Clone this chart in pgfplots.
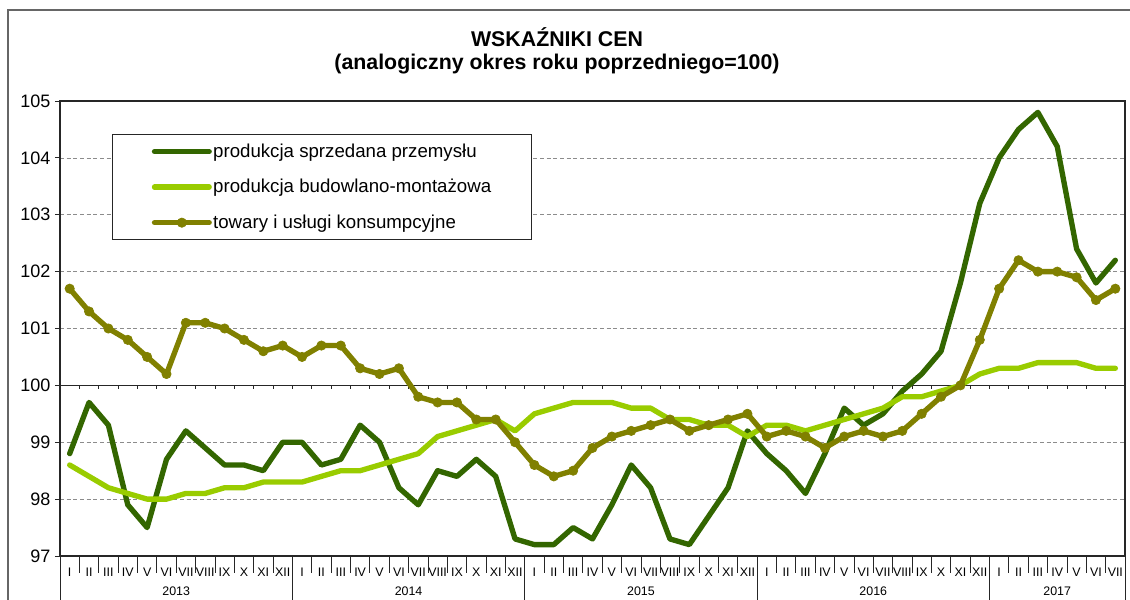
\documentclass[border=0pt]{standalone}
\usepackage{fontspec}
\setmainfont{Liberation Sans}
\usepackage{pgfplots}
\pgfplotsset{compat=1.18}
\usepackage{pgfplotstable}
\definecolor{cdark}{RGB}{51,102,0}
\definecolor{clight}{RGB}{153,204,0}
\definecolor{colive}{RGB}{128,128,0}

\pgfplotstableread{
x y
1 98.8
2 99.7
3 99.3
4 97.9
5 97.5
6 98.7
7 99.2
8 98.9
9 98.6
10 98.6
11 98.5
12 99.0
13 99.0
14 98.6
15 98.7
16 99.3
17 99.0
18 98.2
19 97.9
20 98.5
21 98.4
22 98.7
23 98.4
24 97.3
25 97.2
26 97.2
27 97.5
28 97.3
29 97.9
30 98.6
31 98.2
32 97.3
33 97.2
34 97.7
35 98.2
36 99.2
37 98.8
38 98.5
39 98.1
40 98.8
41 99.6
42 99.3
43 99.5
44 99.9
45 100.2
46 100.6
47 101.8
48 103.2
49 104.0
50 104.5
51 104.8
52 104.2
53 102.4
54 101.8
55 102.2
}\tabA

\pgfplotstableread{
x y
1 98.6
2 98.4
3 98.2
4 98.1
5 98.0
6 98.0
7 98.1
8 98.1
9 98.2
10 98.2
11 98.3
12 98.3
13 98.3
14 98.4
15 98.5
16 98.5
17 98.6
18 98.7
19 98.8
20 99.1
21 99.2
22 99.3
23 99.4
24 99.2
25 99.5
26 99.6
27 99.7
28 99.7
29 99.7
30 99.6
31 99.6
32 99.4
33 99.4
34 99.3
35 99.3
36 99.1
37 99.3
38 99.3
39 99.2
40 99.3
41 99.4
42 99.5
43 99.6
44 99.8
45 99.8
46 99.9
47 100.0
48 100.2
49 100.3
50 100.3
51 100.4
52 100.4
53 100.4
54 100.3
55 100.3
}\tabB

\pgfplotstableread{
x y
1 101.7
2 101.3
3 101.0
4 100.8
5 100.5
6 100.2
7 101.1
8 101.1
9 101.0
10 100.8
11 100.6
12 100.7
13 100.5
14 100.7
15 100.7
16 100.3
17 100.2
18 100.3
19 99.8
20 99.7
21 99.7
22 99.4
23 99.4
24 99.0
25 98.6
26 98.4
27 98.5
28 98.9
29 99.1
30 99.2
31 99.3
32 99.4
33 99.2
34 99.3
35 99.4
36 99.5
37 99.1
38 99.2
39 99.1
40 98.9
41 99.1
42 99.2
43 99.1
44 99.2
45 99.5
46 99.8
47 100.0
48 100.8
49 101.7
50 102.2
51 102.0
52 102.0
53 101.9
54 101.5
55 101.7
}\tabC

\begin{document}
\begin{tikzpicture}[x=0.75pt,y=0.75pt]
\useasboundingbox (0,0) rectangle (1130,599);
\draw[black!60, line width=0.8pt] (8,-10) -- (8,589) -- (1140,589);
\node[font=\fontsize{16}{19}\selectfont\bfseries] at (557,562) {WSKAŹNIKI CEN};
\node[font=\fontsize{16}{19}\selectfont\bfseries] at (557,535) {(analogiczny okres roku poprzedniego=100)};
\begin{axis}[
  at={(45pt,32.25pt)}, anchor=south west, scale only axis,
  width=798.75pt, height=341.25pt,
  xmin=0.5, xmax=55.5, ymin=97, ymax=105,
  ytick={97,98,...,105},
  xtick={1,...,55},
  xticklabels={I,II,III,IV,V,VI,VII,VIII,IX,X,XI,XII,
               I,II,III,IV,V,VI,VII,VIII,IX,X,XI,XII,
               I,II,III,IV,V,VI,VII,VIII,IX,X,XI,XII,
               I,II,III,IV,V,VI,VII,VIII,IX,X,XI,XII,
               I,II,III,IV,V,VI,VII},
  xtick style={draw=none},
  ytick style={black!85, line width=0.6pt},
  tick align=outside, major tick length=3.75pt,
  ytick pos=left, xtick pos=bottom,
  ymajorgrids, grid style={black!45, densely dashed, line width=0.5pt},
  axis line style={black!85, line width=0.8pt},
  /pgf/number format/assume math mode=true,
  yticklabel style={font=\fontsize{13.5}{16}\selectfont},
  xticklabel style={font=\fontsize{9.3}{11}\selectfont, anchor=center, yshift=-8.25pt},
  clip=false,
  legend style={at={(0.0488,0.9275)}, anchor=north west, draw=black!85, line width=0.8pt,
    fill=white, font=\fontsize{14}{17}\selectfont, inner xsep=29.5pt, inner ysep=5pt,
    row sep=11pt, nodes={inner xsep=1pt, inner ysep=2pt}},
  legend cell align=left,
  legend image code/.code={\draw[mark repeat=2,mark phase=2,#1] plot coordinates {(0pt,0pt) (20.5pt,0pt) (41pt,0pt)};},
]
\draw[black!85, line width=0.8pt] (axis cs:0.5,100) -- (axis cs:55.5,100);
\pgfplotsinvokeforeach{0,...,55}{
  \draw[black!85, line width=0.6pt] (axis cs:#1+0.5,100) -- ++(0pt,-3pt);
  \draw[black!85, line width=0.6pt] (axis cs:#1+0.5,97) -- ++(0pt,-12.75pt);
}
\pgfplotsinvokeforeach{0,12,24,36,48,55}{
  \draw[black!85, line width=0.6pt] (axis cs:#1+0.5,97) -- ++(0pt,-40pt);
}
\node[font=\fontsize{9.3}{11}\selectfont] at ([yshift=-26.25pt]axis cs:6.5,97) {2013};
\node[font=\fontsize{9.3}{11}\selectfont] at ([yshift=-26.25pt]axis cs:18.5,97) {2014};
\node[font=\fontsize{9.3}{11}\selectfont] at ([yshift=-26.25pt]axis cs:30.5,97) {2015};
\node[font=\fontsize{9.3}{11}\selectfont] at ([yshift=-26.25pt]axis cs:42.5,97) {2016};
\node[font=\fontsize{9.3}{11}\selectfont] at ([yshift=-26.25pt]axis cs:52,97) {2017};
\addplot[cdark, line width=4pt, line join=round, line cap=round] table {\tabA};
\addlegendentry{produkcja sprzedana przemysłu}
\addplot[clight, line width=4pt, line join=round, line cap=round] table {\tabB};
\addlegendentry{produkcja budowlano-montażowa}
\addplot[colive, line width=4pt, line join=round, line cap=round, mark=*, mark size=3.5pt, mark options={solid, fill=colive, draw=colive, line width=0.5pt}] table {\tabC};
\addlegendentry{towary i usługi konsumpcyjne}
\end{axis}
\end{tikzpicture}
\end{document}
